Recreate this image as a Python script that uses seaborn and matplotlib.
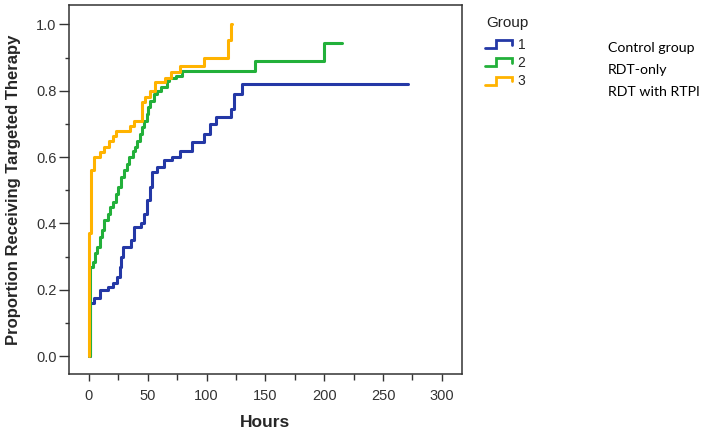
import matplotlib
matplotlib.use("Agg")
import numpy as np
import pandas as pd
import seaborn as sns
import matplotlib.pyplot as plt
from matplotlib.lines import Line2D
from matplotlib.legend_handler import HandlerBase
from matplotlib.ticker import MultipleLocator, FormatStrFormatter

# ---------------- data ----------------
group_names = ["1", "2", "3"]
group_desc = ["Control group", "RDT-only", "RDT with RTPI"]

g1_hours = [0, 0.5, 4, 9, 16, 20, 24, 26, 27.5, 29, 36, 38, 44, 47, 49, 52, 54,
            58, 64, 71, 77, 88, 98, 103, 108, 121, 123, 130, 271]
g1_prop = [0.0, 0.16, 0.175, 0.20, 0.21, 0.22, 0.24, 0.27, 0.30, 0.33, 0.35, 0.39,
           0.40, 0.43, 0.47, 0.51, 0.555, 0.57, 0.59, 0.60, 0.62, 0.645, 0.67, 0.70,
           0.72, 0.745, 0.79, 0.82, 0.82]

g2_hours = [0, 1, 3, 5, 7, 9, 11, 13, 16, 18, 20, 23, 25, 27, 30, 32, 34, 37, 39,
            41, 43, 45, 47, 49, 50, 52, 55, 58, 61, 66, 68, 74, 79, 141, 200, 215]
g2_prop = [0.0, 0.27, 0.285, 0.31, 0.33, 0.36, 0.38, 0.41, 0.43, 0.45, 0.465, 0.49,
           0.51, 0.54, 0.56, 0.58, 0.60, 0.62, 0.63, 0.65, 0.67, 0.69, 0.71, 0.73,
           0.75, 0.77, 0.79, 0.80, 0.81, 0.83, 0.84, 0.846, 0.86, 0.889, 0.944, 0.944]

g3_hours = [0, 0, 1.5, 4, 9, 13, 17, 20, 23, 35, 38, 45, 48, 52, 56, 65, 70, 77,
            98, 118, 121, 121.5]
g3_prop = [0.0, 0.37, 0.56, 0.60, 0.615, 0.63, 0.65, 0.665, 0.68, 0.695, 0.71,
           0.765, 0.78, 0.80, 0.826, 0.84, 0.857, 0.875, 0.90, 0.952, 1.0, 1.0]

colors = ["#2438a6", "#22b03a", "#ffb300"]

x_ticks = [0, 50, 100, 150, 200, 250, 300]
y_ticks = [0.0, 0.2, 0.4, 0.6, 0.8, 1.0]

# ---------------- build table ----------------
frames = []
for name, h, p in zip(group_names, [g1_hours, g2_hours, g3_hours],
                      [g1_prop, g2_prop, g3_prop]):
    frames.append(pd.DataFrame({"Hours": h, "Proportion": p, "Group": name}))
df = pd.concat(frames, ignore_index=True)

# ---------------- style ----------------
sns.set_theme(style="ticks")
plt.rcParams["font.family"] = ["Liberation Sans", "DejaVu Sans"]

fig = plt.figure(figsize=(7.04, 4.33), dpi=100)
ax = fig.add_axes([0.098, 0.136, 0.558, 0.852])

sns.lineplot(data=df, x="Hours", y="Proportion", hue="Group",
             palette=dict(zip(group_names, colors)), estimator=None, sort=False,
             drawstyle="steps-post", linewidth=2.2, legend=False, ax=ax)

ax.set_xlim(-17, 317)
ax.set_ylim(-0.054, 1.058)
ax.set_xticks(x_ticks)
ax.set_yticks(y_ticks)
ax.xaxis.set_minor_locator(MultipleLocator(25))
ax.yaxis.set_minor_locator(MultipleLocator(0.1))
ax.yaxis.set_major_formatter(FormatStrFormatter("%.1f"))

ax.tick_params(axis="x", which="major", length=5, width=1, colors="#333333",
               labelsize=10.5, pad=6)
ax.tick_params(axis="x", which="minor", length=4, width=1, colors="#333333")
ax.tick_params(axis="y", which="major", length=7, width=1, colors="#333333",
               labelsize=10.5, pad=2)
ax.tick_params(axis="y", which="minor", length=3, width=1, colors="#333333")

for s in ax.spines.values():
    s.set_visible(True)
    s.set_color("#333333")
    s.set_linewidth(1.1)

ax.set_xlabel("Hours", fontsize=12.5, fontweight="bold", labelpad=8)
ax.set_ylabel("Proportion Receiving Targeted Therapy", fontsize=12,
              fontweight="bold", labelpad=11)


# ---------------- legend with step-shaped handles ----------------
class StepHandler(HandlerBase):
    def create_artists(self, legend, orig_handle, xdescent, ydescent,
                       width, height, fontsize, trans):
        x0 = -xdescent
        xs = [x0, x0 + 0.42 * width, x0 + 0.42 * width, x0 + width, x0 + width]
        ys = [-ydescent + 0.15 * height, -ydescent + 0.15 * height,
              -ydescent + 0.85 * height, -ydescent + 0.85 * height,
              -ydescent + 0.45 * height]
        line = Line2D(xs, ys, color=orig_handle.get_color(), lw=2.0,
                      solid_joinstyle="miter")
        line.set_transform(trans)
        return [line]


handles = [Line2D([], [], color=c) for c in colors]
leg = ax.legend(handles, group_names, loc="upper left",
                bbox_to_anchor=(485 / 704, 1 - 38 / 433), bbox_transform=fig.transFigure,
                frameon=False, fontsize=10, borderpad=0,
                borderaxespad=0, handlelength=1.95, handleheight=0.9,
                handletextpad=0.4, labelspacing=0.3,
                handler_map={Line2D: StepHandler()})

fig.text(486 / 704, 1 - 23 / 433, "Group", fontsize=11, va="center", ha="left",
         color="#222222")

for i, t in enumerate(group_desc):
    fig.text(608 / 704, 1 - (48 + 22 * i) / 433, t, fontsize=10.2,
             family=["Lato", "DejaVu Sans"], va="center", ha="left", color="black")

fig.savefig("out.png", dpi=100)
